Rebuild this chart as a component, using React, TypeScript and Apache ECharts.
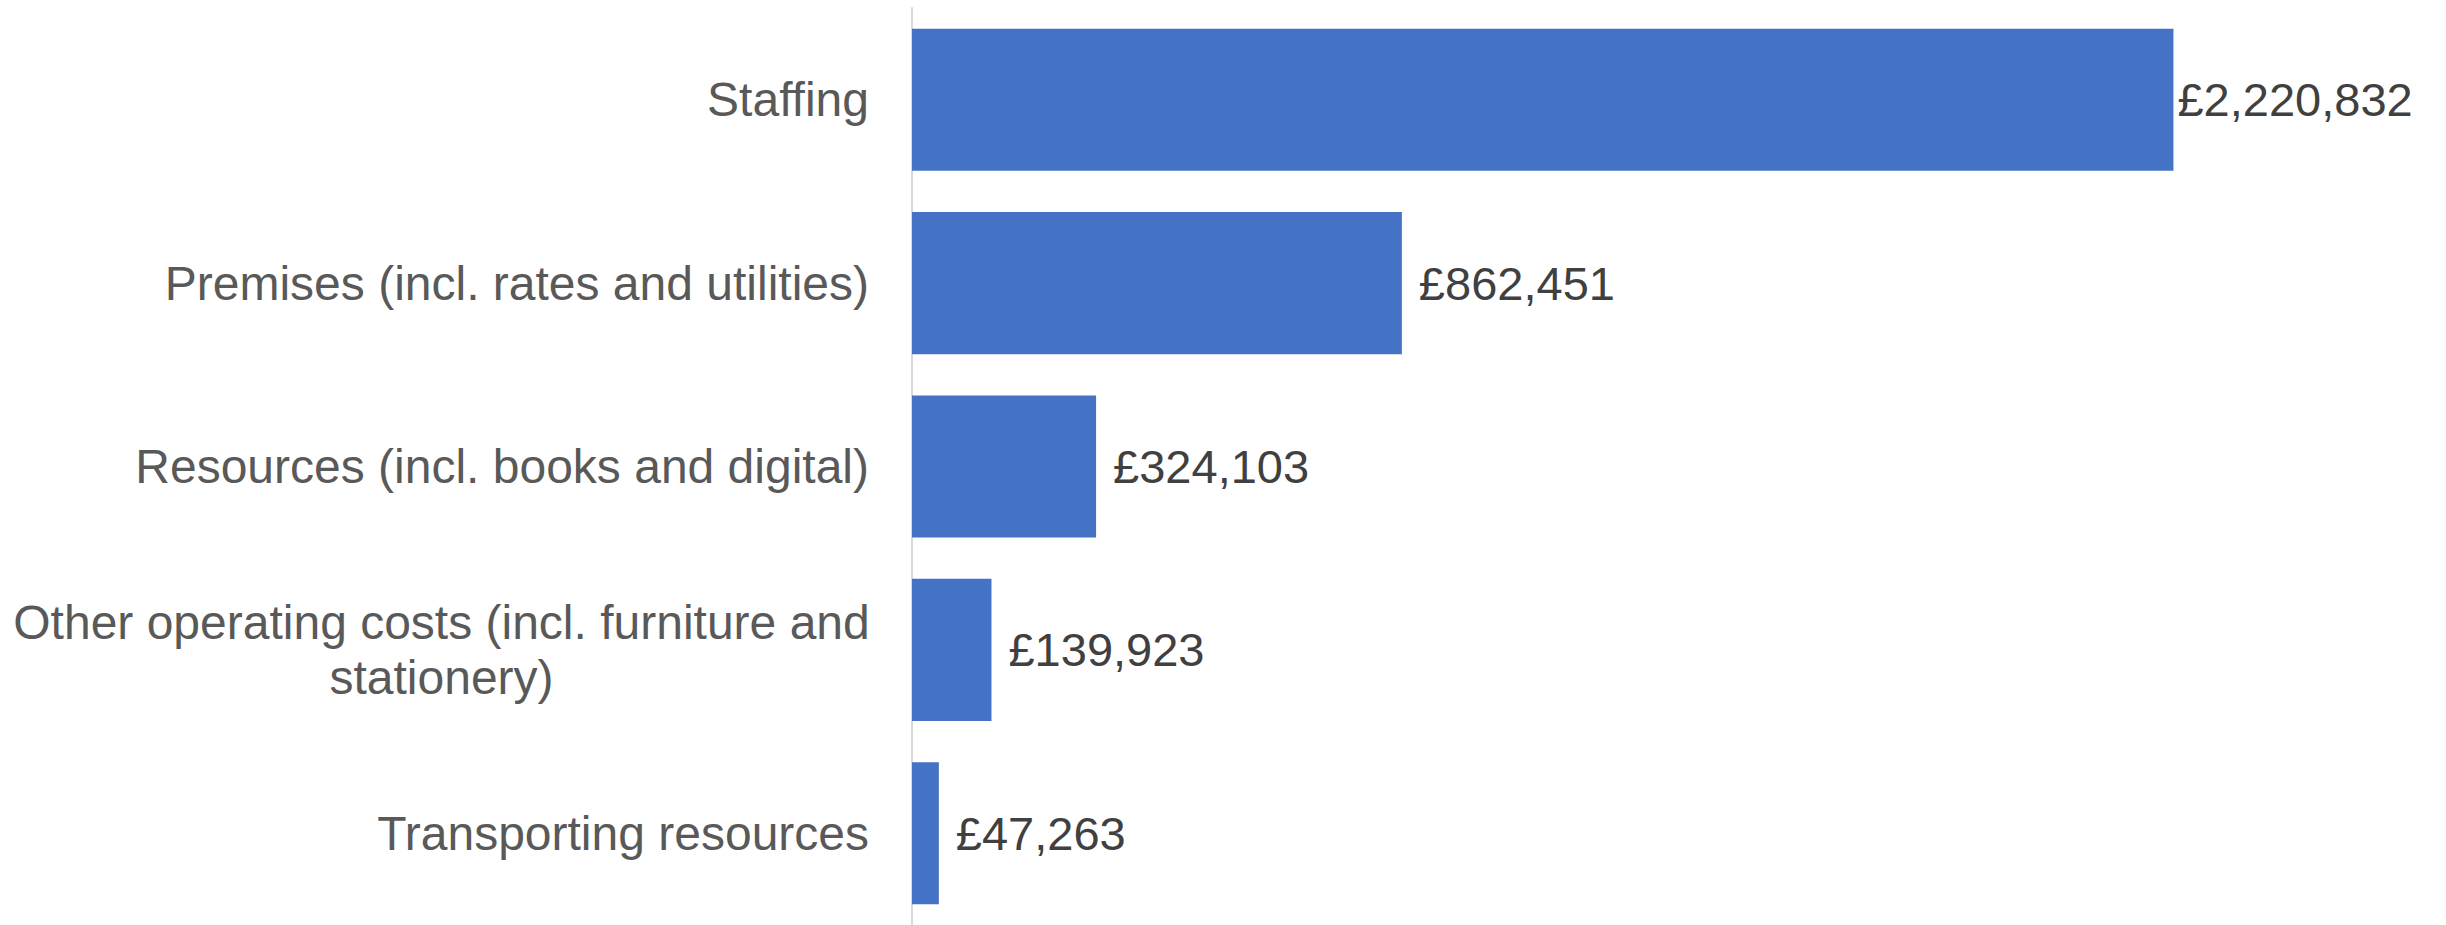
import React, { useEffect, useRef } from "react";
import * as echarts from "echarts";

const categories: string[] = [
  "Staffing",
  "Premises (incl. rates and utilities)",
  "Resources (incl. books and digital)",
  "Other operating costs (incl. furniture and\nstationery)",
  "Transporting resources",
];
const values: number[] = [2220832, 862451, 324103, 139923, 47263];
const labelDistances: number[] = [4, 17, 17, 17, 17];

const fmt = (v: number) => "£" + v.toLocaleString("en-GB");

export default function App() {
  const ref = useRef<HTMLDivElement>(null);
  useEffect(() => {
    if (!ref.current) return;
    const chart = echarts.init(ref.current, undefined, { renderer: "svg" });
    chart.setOption({
      animation: false,
      backgroundColor: "#ffffff",
      grid: { left: 912, top: 8, width: 1420, height: 930, containLabel: false },
      xAxis: {
        type: "value",
        min: 0,
        max: 2500000,
        show: false,
        splitLine: { show: false },
      },
      yAxis: {
        type: "category",
        data: categories,
        inverse: true,
        axisLine: { show: true, lineStyle: { color: "#d9d9d9", width: 2 } },
        axisTick: { show: false },
        axisLabel: {
          color: "#595959",
          fontFamily: "Liberation Sans, Arial, sans-serif",
          fontSize: 48,
          margin: 43,
          lineHeight: 55,
          formatter: (v: string) => {
            if (v.indexOf("\n") >= 0) {
              return v
                .split("\n")
                .map((l) => "{w|" + l + "}")
                .join("\n");
            }
            return v;
          },
          rich: {
            w: {
              width: 855,
              align: "center",
              fontSize: 48,
              lineHeight: 55,
              color: "#595959",
              fontFamily: "Liberation Sans, Arial, sans-serif",
            },
          },
        },
      },
      series: [
        {
          type: "bar",
          data: values.map((v, i) => ({
            value: v,
            label: { distance: labelDistances[i] },
          })),
          barCategoryGap: "22.5%",
          itemStyle: { color: "#4472C4" },
          label: {
            show: true,
            position: "right",
            color: "#404040",
            fontFamily: "Liberation Sans, Arial, sans-serif",
            fontSize: 47,
            formatter: (p: any) => fmt(p.value),
          },
        },
      ],
    });
    return () => chart.dispose();
  }, []);
  return (
    <div
      ref={ref}
      style={{ position: "fixed", left: 0, top: 0, width: 2446, height: 925 }}
    />
  );
}
